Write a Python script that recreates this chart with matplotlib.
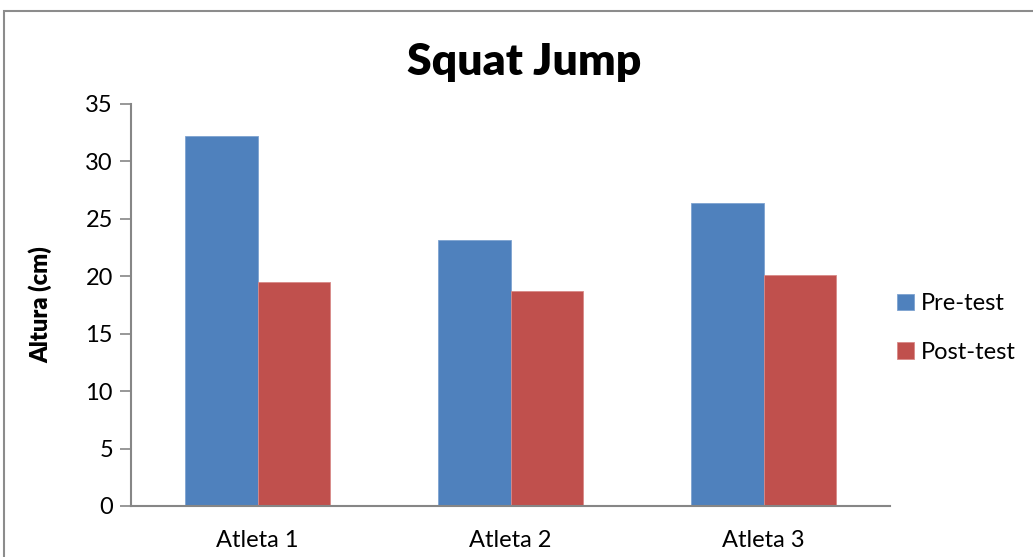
import matplotlib
matplotlib.use("Agg")
import matplotlib.pyplot as plt
from matplotlib.patches import Rectangle
import numpy as np

categories = ["Atleta 1", "Atleta 2", "Atleta 3"]
pre_test = [32.2, 23.2, 26.4]
post_test = [19.5, 18.7, 20.1]
series_names = ["Pre-test", "Post-test"]
yticks = [0, 5, 10, 15, 20, 25, 30, 35]

W, H = 1033, 557
fig = plt.figure(figsize=(W / 100, H / 100), dpi=100)
plt.rcParams["font.family"] = ["Lato", "DejaVu Sans"]

# chart frame (extends past right and bottom edge)
fig.patches.append(Rectangle((4 / W, -0.1), 2.0, (H - 11) / H + 0.1,
                             transform=fig.transFigure, fill=False,
                             edgecolor="#8c8c8c", linewidth=1.5))

ax = fig.add_axes([131 / W, 1 - 506 / H, (890 - 131) / W, (506 - 104) / H])

x = np.arange(len(categories))
bw = 1 / 3.5
blue, red = "#4F81BD", "#C0504D"
ax.bar(x - bw / 2, pre_test, bw, color=blue, edgecolor="#7ea3d0", linewidth=0.6,
       label=series_names[0])
ax.bar(x + bw / 2, post_test, bw, color=red, edgecolor="#d88a88", linewidth=0.6,
       label=series_names[1])

ax.set_xlim(-0.5, len(categories) - 0.5)
ax.set_ylim(0, 35)
ax.set_yticks(yticks)
ax.set_xticks(x)
ax.set_xticklabels(categories, fontsize=17)
ax.tick_params(axis="y", labelsize=17, length=8, width=1.2, color="#868686",
               direction="out", pad=5)
ax.tick_params(axis="x", length=0, pad=17)
for s in ["top", "right"]:
    ax.spines[s].set_visible(False)
for s in ["left", "bottom"]:
    ax.spines[s].set_color("#868686")
    ax.spines[s].set_linewidth(1.5)

ax.set_ylabel("Altura (cm)", fontsize=17, fontweight="heavy", labelpad=24)
fig.text(524 / W, 1 - 62 / H, "Squat Jump", fontsize=32, fontweight="heavy",
         ha="center", va="center")

leg = ax.legend(loc="center left", bbox_to_anchor=(888 / W, 1 - 328 / H),
                bbox_transform=fig.transFigure, frameon=False, fontsize=17,
                handlelength=0.7, handleheight=0.7, handletextpad=0.3,
                labelspacing=1.15, borderaxespad=0)

fig.savefig("out.png", dpi=100)
